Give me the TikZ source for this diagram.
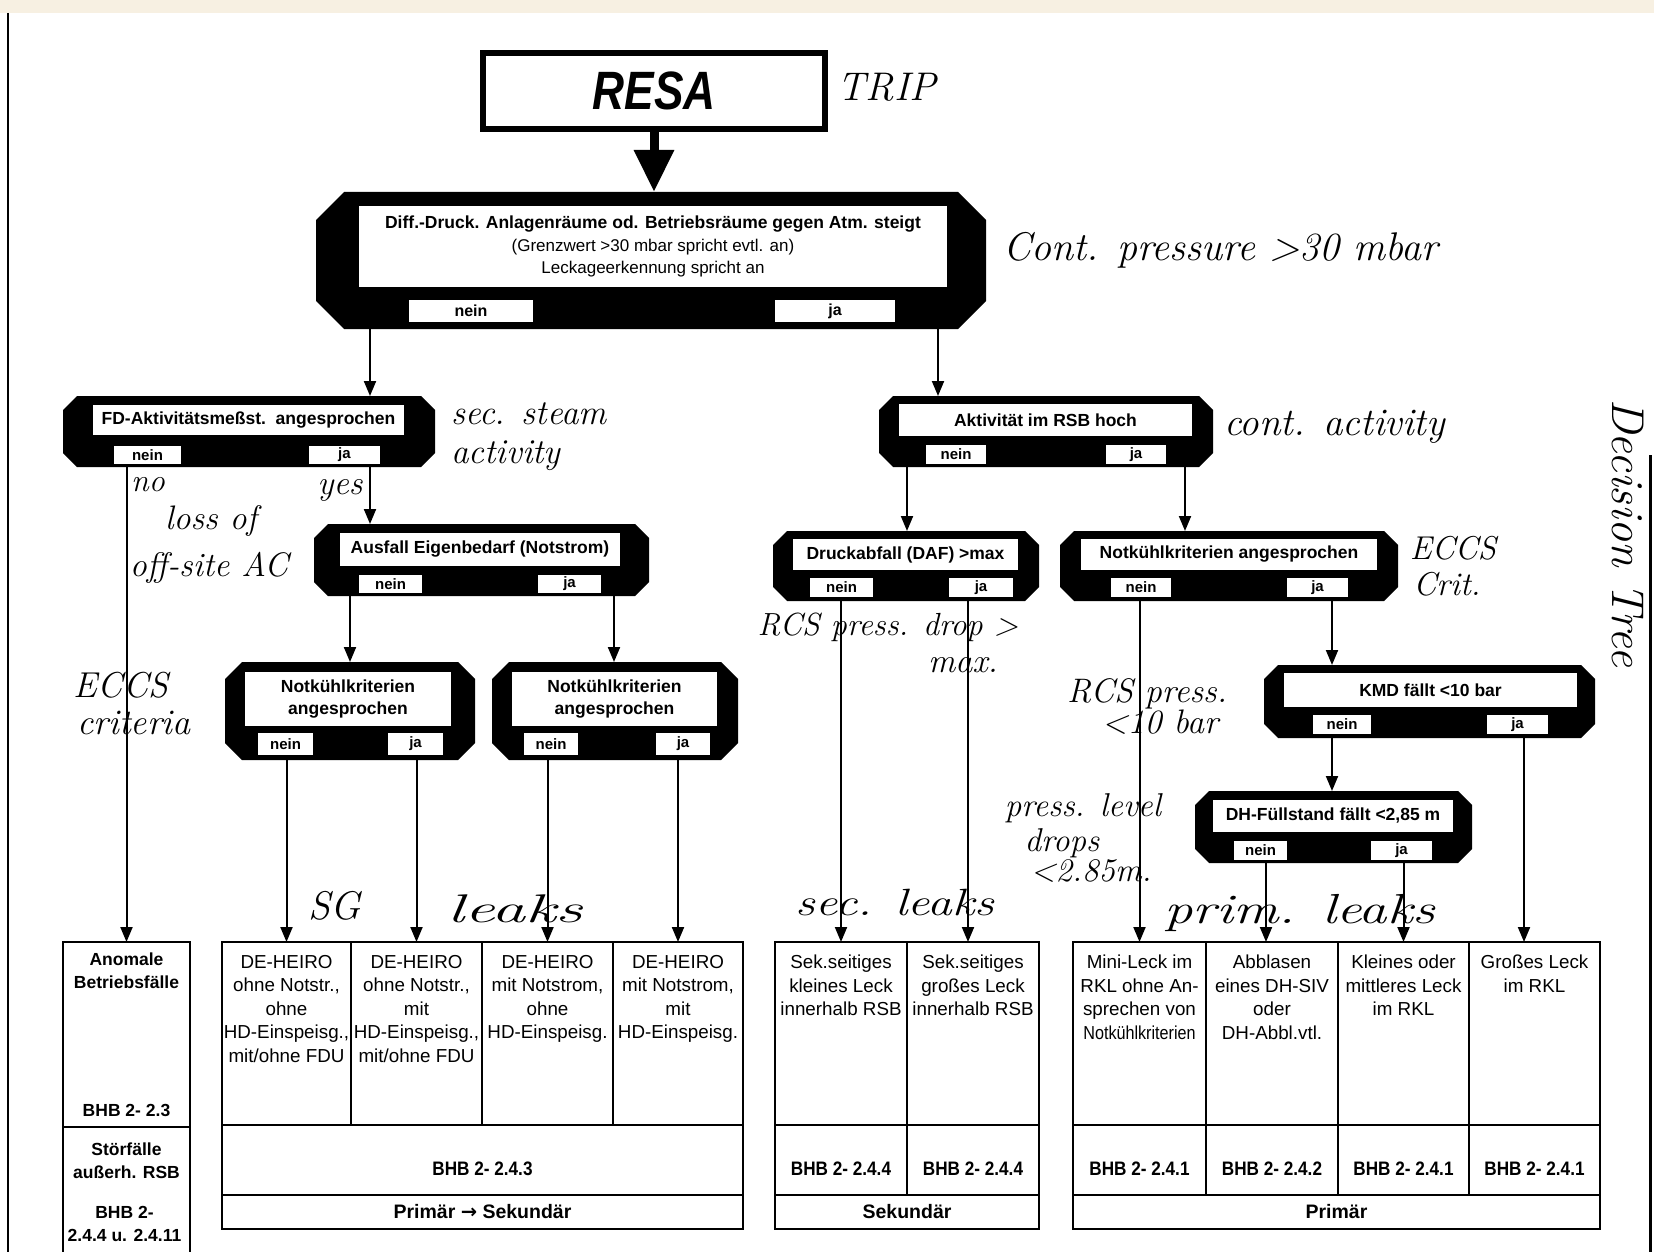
\documentclass[tikz,border=0pt]{standalone}
\usepackage{fontspec}
\usepackage{graphicx}
\usetikzlibrary{arrows.meta}
\newfontfamily\lsans{Liberation Sans}
\newfontfamily\lsanscond{Liberation Sans}[FakeStretch=0.88]
\newfontfamily\lsansresa{Liberation Sans}[FakeStretch=0.82]
\newfontfamily\dvsans{DejaVu Sans}
\newcommand\fTitle{\lsans\bfseries\fontsize{17.5}{22.5}\selectfont}
\newcommand\fReg{\lsans\mdseries\fontsize{17}{22.5}\selectfont}
\newcommand\fYN{\lsans\bfseries\fontsize{15}{18}\selectfont}
\newcommand\fCol{\lsans\mdseries\fontsize{18.8}{23.5}\selectfont}
\newcommand\fBHB{\lsanscond\bfseries\fontsize{19.5}{22}\selectfont}
\newcommand\fBot{\lsans\bfseries\fontsize{19.5}{22}\selectfont}
\newcommand\fAn{\lsans\bfseries\fontsize{17.5}{23}\selectfont}
\newcommand\fHand[1]{\normalfont\itshape\fontsize{#1}{#1}\selectfont}
\newcommand\chamf[2]{%
  \fill[black] ([xshift=#2]#1.north west) -- ([xshift=-#2]#1.north east)
    -- ([yshift=-#2]#1.north east) -- ([yshift=#2]#1.south east)
    -- ([xshift=-#2]#1.south east) -- ([xshift=#2]#1.south west)
    -- ([yshift=#2]#1.south west) -- ([yshift=-#2]#1.north west) -- cycle;}
\definecolor{cream}{RGB}{247,240,226}
\begin{document}
\begin{tikzpicture}[x=1pt,y=-1pt,
  arr/.style={line width=2pt, -{Triangle[width=12pt,length=15pt]}},
  blk/.style={inner sep=0pt, outer sep=0pt, anchor=north west},
  wbox/.style={fill=white, inner sep=0pt, outer sep=0pt, anchor=north west, align=center, font=\fTitle},
  yn/.style={fill=white, inner sep=0pt, outer sep=0pt, anchor=north west, font=\fYN},
  cell/.style={draw, line width=2.2pt, inner sep=0pt, outer sep=0pt, anchor=north west},
  ctext/.style={anchor=north, align=center, inner sep=0pt, font=\fCol},
  bhb/.style={inner sep=0pt, font=\fBHB},
  bot/.style={inner sep=0pt, font=\fBot},
  antext/.style={inner sep=0pt, align=center, font=\fAn},
  hand/.style={inner sep=0pt, font={\fHand{#1}}},
  hand/.default=36
]
\useasboundingbox (0,0) rectangle (1654,1252);
\fill[white] (0,0) rectangle (1654,1252);
\fill[cream] (0,0) rectangle (1654,13);
\draw[line width=2pt] (8,13) -- (8,1252);
\draw[line width=3pt] (1650,455) -- (1650,1252);

% ---------- RESA ----------
\node[draw, line width=6pt, minimum width=342pt, minimum height=76pt, inner sep=0pt,
      font=\lsansresa\bfseries\itshape\fontsize{54}{54}\selectfont] (resa) at (654,91) {RESA};

% ---------- decision boxes (black shapes) ----------
\node[blk, minimum width=670pt, minimum height=137pt] (diff) at (316,192) {};
\chamf{diff}{28pt}
\node[wbox, minimum width=588pt, minimum height=81pt] (diffT) at (359,206)
  {Diff.-Druck. Anlagenräume od. Betriebsräume gegen Atm. steigt\\{\fReg (Grenzwert >30 mbar spricht evtl. an)}\\{\fReg Leckageerkennung spricht an}};
\node[yn, minimum width=124pt, minimum height=22pt, font=\lsans\bfseries\fontsize{16}{18}\selectfont] (diffN) at (409,300) {nein};
\node[yn, minimum width=120pt, minimum height=22pt, font=\lsans\bfseries\fontsize{16}{18}\selectfont] (diffJ) at (775,300) {ja};

\node[blk, minimum width=372pt, minimum height=71pt] (fd) at (63,396) {};
\chamf{fd}{14pt}
\node[wbox, minimum width=311pt, minimum height=30pt] (fdT) at (93,405) {FD-Aktivitätsmeßst.\ \ angesprochen};
\node[yn, minimum width=67pt, minimum height=18pt] (fdN) at (114,446) {nein};
\node[yn, minimum width=71pt, minimum height=18pt] (fdJ) at (309,446) {ja};

\node[blk, minimum width=335pt, minimum height=72pt] (aus) at (314,524) {};
\chamf{aus}{14pt}
\node[wbox, minimum width=280pt, minimum height=33pt] (ausT) at (340,533) {Ausfall Eigenbedarf (Notstrom)};
\node[yn, minimum width=63pt, minimum height=18pt] (ausN) at (359,575) {nein};
\node[yn, minimum width=63pt, minimum height=18pt] (ausJ) at (538,575) {ja};

\node[blk, minimum width=250pt, minimum height=98pt] (nk1) at (225,662) {};
\chamf{nk1}{17pt}
\node[wbox, minimum width=206pt, minimum height=54pt] (nk1T) at (245,672) {Notkühlkriterien\\angesprochen};
\node[yn, minimum width=55pt, minimum height=22pt] (nk1N) at (258,733) {nein};
\node[yn, minimum width=55pt, minimum height=22pt] (nk1J) at (388,733) {ja};

\node[blk, minimum width=246pt, minimum height=98pt] (nk2) at (492,662) {};
\chamf{nk2}{17pt}
\node[wbox, minimum width=205pt, minimum height=54pt] (nk2T) at (512,672) {Notkühlkriterien\\angesprochen};
\node[yn, minimum width=54pt, minimum height=22pt] (nk2N) at (524,733) {nein};
\node[yn, minimum width=54pt, minimum height=22pt] (nk2J) at (656,733) {ja};

\node[blk, minimum width=334pt, minimum height=71pt] (akt) at (879,396) {};
\chamf{akt}{14pt}
\node[wbox, minimum width=293pt, minimum height=32pt] (aktT) at (899,404) {Aktivität im RSB hoch};
\node[yn, minimum width=60pt, minimum height=19pt] (aktN) at (926,445) {nein};
\node[yn, minimum width=60pt, minimum height=19pt] (aktJ) at (1106,445) {ja};

\node[blk, minimum width=266pt, minimum height=70pt] (dr) at (773,531) {};
\chamf{dr}{14pt}
\node[wbox, minimum width=225pt, minimum height=31pt] (drT) at (793,539) {Druckabfall (DAF) >max};
\node[yn, minimum width=63pt, minimum height=19pt] (drN) at (810,578) {nein};
\node[yn, minimum width=64pt, minimum height=19pt] (drJ) at (949,578) {ja};

\node[blk, minimum width=338pt, minimum height=70pt] (nkr) at (1060,531) {};
\chamf{nkr}{14pt}
\node[wbox, minimum width=296pt, minimum height=31pt] (nkrT) at (1081,539) {Notkühlkriterien angesprochen};
\node[yn, minimum width=60pt, minimum height=19pt] (nkrN) at (1111,578) {nein};
\node[yn, minimum width=61pt, minimum height=19pt] (nkrJ) at (1287,578) {ja};

\node[blk, minimum width=331pt, minimum height=73pt] (kmd) at (1264,665) {};
\chamf{kmd}{14pt}
\node[wbox, minimum width=293pt, minimum height=34pt] (kmdT) at (1284,673) {KMD fällt <10 bar};
\node[yn, minimum width=58pt, minimum height=19pt] (kmdN) at (1313,715) {nein};
\node[yn, minimum width=61pt, minimum height=19pt] (kmdJ) at (1487,715) {ja};

\node[blk, minimum width=277pt, minimum height=72pt] (dh) at (1195,791) {};
\chamf{dh}{14pt}
\node[wbox, minimum width=240pt, minimum height=32pt] (dhT) at (1213,800) {DH-Füllstand fällt <2,85 m};
\node[yn, minimum width=53pt, minimum height=19pt] (dhN) at (1234,841) {nein};
\node[yn, minimum width=61pt, minimum height=19pt] (dhJ) at (1371,841) {ja};

% ---------- result tables ----------
\node[cell, minimum width=127pt, minimum height=185pt] (an1) at (63,942) {};
\node[cell, minimum width=127pt, minimum height=140pt] (an2) at (63,1127) {};
\node[antext, anchor=north] (an1t) at (126.5,953) {Anomale\\Betriebsfälle};
\node[antext] (an1b) at (126.5,1110) {BHB 2- 2.3};
\node[antext] (an2t) at (126.5,1161) {Störfälle\\außerh. RSB};
\node[antext] (an2b) at (124.5,1224) {BHB 2-\\2.4.4 u. 2.4.11};

\node[cell, minimum width=129pt, minimum height=183pt] (sg1) at (222,942) {};
\node[cell, minimum width=131pt, minimum height=183pt] (sg2) at (351,942) {};
\node[cell, minimum width=131pt, minimum height=183pt] (sg3) at (482,942) {};
\node[cell, minimum width=130pt, minimum height=183pt] (sg4) at (613,942) {};
\node[cell, minimum width=521pt, minimum height=70pt] (sgb) at (222,1125) {};
\node[cell, minimum width=521pt, minimum height=34pt] (sgc) at (222,1195) {};
\node[ctext] (sg1t) at (286.5,955) {DE-HEIRO\\ohne Notstr.,\\ohne\\HD-Einspeisg.,\\mit/ohne FDU};
\node[ctext] (sg2t) at (416.5,955) {DE-HEIRO\\ohne Notstr.,\\mit\\HD-Einspeisg.,\\mit/ohne FDU};
\node[ctext] (sg3t) at (547.5,955) {DE-HEIRO\\mit Notstrom,\\ohne\\HD-Einspeisg.};
\node[ctext] (sg4t) at (678,955) {DE-HEIRO\\mit Notstrom,\\mit\\HD-Einspeisg.};
\node[bhb] (sgbt) at (482.5,1169) {BHB 2- 2.4.3};
\node[bot] (sgct) at (482.5,1212) {Primär {\dvsans\bfseries →} Sekundär};

\node[cell, minimum width=132pt, minimum height=183pt] (sk1) at (775,942) {};
\node[cell, minimum width=132pt, minimum height=183pt] (sk2) at (907,942) {};
\node[cell, minimum width=132pt, minimum height=70pt] (skb1) at (775,1125) {};
\node[cell, minimum width=132pt, minimum height=70pt] (skb2) at (907,1125) {};
\node[cell, minimum width=264pt, minimum height=34pt] (skc) at (775,1195) {};
\node[ctext] (sk1t) at (841,955) {Sek.seitiges\\kleines Leck\\innerhalb RSB};
\node[ctext] (sk2t) at (973,955) {Sek.seitiges\\großes Leck\\innerhalb RSB};
\node[bhb] (skb1t) at (841,1169) {BHB 2- 2.4.4};
\node[bhb] (skb2t) at (973,1169) {BHB 2- 2.4.4};
\node[bot] (skct) at (907,1212) {Sekundär};

\node[cell, minimum width=133pt, minimum height=183pt] (p1) at (1073,942) {};
\node[cell, minimum width=132pt, minimum height=183pt] (p2) at (1206,942) {};
\node[cell, minimum width=131pt, minimum height=183pt] (p3) at (1338,942) {};
\node[cell, minimum width=131pt, minimum height=183pt] (p4) at (1469,942) {};
\node[cell, minimum width=133pt, minimum height=70pt] (pb1) at (1073,1125) {};
\node[cell, minimum width=132pt, minimum height=70pt] (pb2) at (1206,1125) {};
\node[cell, minimum width=131pt, minimum height=70pt] (pb3) at (1338,1125) {};
\node[cell, minimum width=131pt, minimum height=70pt] (pb4) at (1469,1125) {};
\node[cell, minimum width=527pt, minimum height=34pt] (pc) at (1073,1195) {};
\node[ctext] (p1t) at (1139.5,955) {Mini-Leck im\\RKL ohne An-\\sprechen von\\\scalebox{0.86}[1]{Notkühlkriterien}};
\node[ctext] (p2t) at (1272,955) {Abblasen\\eines DH-SIV\\oder\\DH-Abbl.vtl.};
\node[ctext] (p3t) at (1403.5,955) {Kleines oder\\mittleres Leck\\im RKL};
\node[ctext] (p4t) at (1534.5,955) {Großes Leck\\im RKL};
\node[bhb] (pb1t) at (1139.5,1169) {BHB 2- 2.4.1};
\node[bhb] (pb2t) at (1272,1169) {BHB 2- 2.4.2};
\node[bhb] (pb3t) at (1403.5,1169) {BHB 2- 2.4.1};
\node[bhb] (pb4t) at (1534.5,1169) {BHB 2- 2.4.1};
\node[bot] (pct) at (1336.5,1212) {Primär};

% ---------- connectors ----------
\coordinate (xL) at (370,0);
\coordinate (xR) at (938,0);
\coordinate (xA1) at (350,0);
\coordinate (xA2) at (614,0);
\coordinate (xK1) at (907,0);
\coordinate (xK2) at (1185,0);
\coordinate (xD2) at (968,0);
\coordinate (xM) at (1332,0);
\coordinate (xP2) at (1266,0);
\coordinate (xP4) at (1524,0);

\draw[line width=9pt, -{Triangle[width=38pt,length=42pt]}] (resa.south) -- (diff.north -| resa);
\draw[arr] (diff.south -| xL) -- (fd.north -| xL);
\draw[arr] (diff.south -| xR) -- (akt.north -| xR);
\draw[arr] (fd.south -| an1.north) -- (an1.north);
\draw[arr] (fd.south -| xL) -- (aus.north -| xL);
\draw[arr] (aus.south -| xA1) -- (nk1.north -| xA1);
\draw[arr] (aus.south -| xA2) -- (nk2.north -| xA2);
\draw[arr] (nk1.south -| sg1.north) -- (sg1.north);
\draw[arr] (nk1.south -| sg2.north) -- (sg2.north);
\draw[arr] (nk2.south -| sg3.north) -- (sg3.north);
\draw[arr] (nk2.south -| sg4.north) -- (sg4.north);
\draw[arr] (akt.south -| xK1) -- (dr.north -| xK1);
\draw[arr] (akt.south -| xK2) -- (nkr.north -| xK2);
\draw[arr] (dr.south -| sk1.north) -- (sk1.north);
\draw[arr] (dr.south -| xD2) -- (sk2.north -| xD2);
\draw[arr] (nkr.south -| p1.north) -- (p1.north);
\draw[arr] (nkr.south -| xM) -- (kmd.north -| xM);
\draw[arr] (kmd.south -| xM) -- (dh.north -| xM);
\draw[arr] (kmd.south -| xP4) -- (p4.north -| xP4);
\draw[arr] (dh.south -| xP2) -- (p2.north -| xP2);
\draw[arr] (dh.south -| p3.north) -- (p3.north);

% ---------- handwritten annotations ----------
\node[hand=40] (hTrip) at (887,87) {TRIP};
\node[hand=40] (hCont) at (1221,250) {Cont. pressure >30 mbar};
\node[hand=35, anchor=west] (hSec1) at (451,414) {sec. steam};
\node[hand=35, anchor=west] (hSec2) at (451,456) {activity};
\node[hand=39, anchor=west] (hCact) at (1224,427) {cont. activity};
\node[hand=32] (hNo) at (148,485) {no};
\node[hand=34] (hYes) at (340,490) {yes};
\node[hand=34] (hLoss1) at (211,521) {loss of};
\node[hand=34] (hLoss2) at (209,568) {off-site AC};
\node[hand=36] (hEccs1) at (121,685) {ECCS};
\node[hand=36] (hEccs2) at (134,723) {criteria};
\node[hand=32] (hRcs1) at (888,627) {RCS press. drop >};
\node[hand=34] (hRcs2) at (963,665) {max.};
\node[hand=33] (hEccs3) at (1453,548) {ECCS};
\node[hand=33] (hEccs4) at (1447,584) {Crit.};
\node[hand=34] (hRcs3) at (1147,694) {RCS press.};
\node[hand=34] (hRcs4) at (1160,722) {<10 bar};
\node[hand=33] (hLev1) at (1083,808) {press. level};
\node[hand=33] (hLev2) at (1062,843) {drops};
\node[hand=33] (hLev3) at (1091,871) {<2.85m.};
\node[hand=40] (hSG) at (335,906) {SG};
\node[hand=40] (hSGl) at (515,909) {\scalebox{1.7}[1]{leaks}};
\node[hand=38] (hSecl) at (895,902) {\scalebox{1.3}[1]{sec. leaks}};
\node[hand=42] (hPrim) at (1300,913) {\scalebox{1.35}[1]{prim. leaks}};
\node[hand=46, rotate=-90] (hDT) at (1628,533) {Decision Tree};
\end{tikzpicture}
\end{document}
